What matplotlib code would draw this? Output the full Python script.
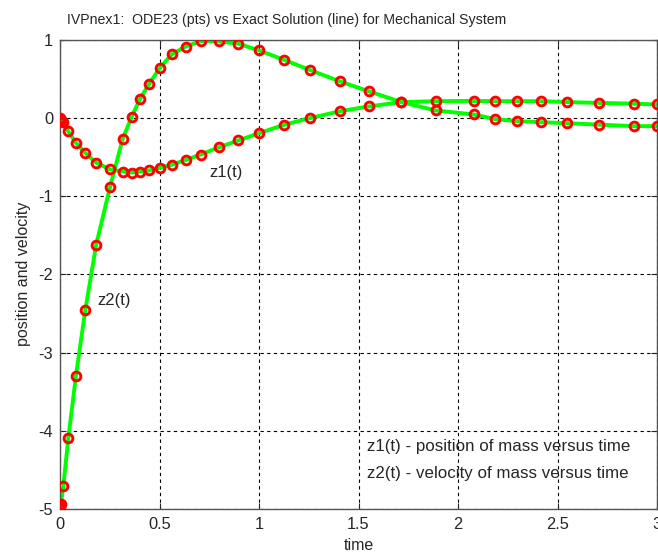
import matplotlib
matplotlib.use("Agg")
import matplotlib.pyplot as plt

plt.rcParams['font.family'] = ['Liberation Sans', 'DejaVu Sans']

t = [0.0, 0.002, 0.005, 0.017, 0.042, 0.080, 0.127, 0.182, 0.252, 0.315, 0.360,
     0.402, 0.447, 0.500, 0.561, 0.631, 0.707, 0.797, 0.896, 1.001, 1.126, 1.256,
     1.407, 1.554, 1.716, 1.889, 2.078, 2.188, 2.296, 2.415, 2.549, 2.709, 2.883, 3.0]
z1 = [0.0, -0.010, -0.025, -0.056, -0.175, -0.320, -0.450, -0.575, -0.660, -0.687, -0.700,
      -0.687, -0.674, -0.640, -0.600, -0.540, -0.470, -0.380, -0.290, -0.197, -0.090, -0.005,
      0.084, 0.145, 0.200, 0.212, 0.215, 0.212, 0.212, 0.212, 0.200, 0.190, 0.180, 0.170]
z2 = [-5.0, -4.96, -4.93, -4.70, -4.09, -3.30, -2.46, -1.62, -0.88, -0.27, 0.01,
      0.24, 0.43, 0.63, 0.81, 0.91, 0.98, 0.976, 0.946, 0.86, 0.74, 0.61,
      0.464, 0.336, 0.200, 0.093, 0.042, -0.018, -0.043, -0.056, -0.070, -0.088, -0.107, -0.107]

xticks = [0, 0.5, 1, 1.5, 2, 2.5, 3]
xticklabels = ['0', '0.5', '1', '1.5', '2', '2.5', '3']
yticks = [-5, -4, -3, -2, -1, 0, 1]
yticklabels = ['-5', '-4', '-3', '-2', '-1', '0', '1']

txt = '#262626'
fig = plt.figure(figsize=(6.58, 5.56), dpi=100)
ax = fig.add_axes([60/658, 47/556, 597/658, 469.5/556])

for z in (z1, z2):
    ax.plot(t, z, color='#00ff00', linewidth=2.8, zorder=2)
    ax.plot(t, z, linestyle='none', marker='o', markersize=6.3, markeredgewidth=2.1,
            markeredgecolor='#ff0000', markerfacecolor='none', zorder=3)

ax.set_xlim(0, 3)
ax.set_ylim(-5, 1)
ax.set_xticks(xticks)
ax.set_xticklabels(xticklabels)
ax.set_yticks(yticks)
ax.set_yticklabels(yticklabels)
ax.grid(True, color='black', linestyle=(0, (3, 3)), linewidth=0.8)
ax.set_axisbelow(True)
ax.tick_params(direction='in', length=4, top=True, right=True, labelsize=11.8,
               colors=txt)
ax.tick_params(axis='x', pad=6)
ax.tick_params(axis='y', pad=5)
for s in ax.spines.values():
    s.set_color('#555555')
    s.set_linewidth(1.0)

fig.text(67/658, 1 - 20/556, 'IVPnex1:  ODE23 (pts) vs Exact Solution (line) for Mechanical System',
         fontsize=10.2, color=txt, ha='left', va='center')
ax.set_xlabel('time', fontsize=11.5, color=txt, labelpad=4)
ax.set_ylabel('position and velocity', fontsize=11.5, color=txt, labelpad=5)

ax.text(0.75, -0.70, 'z1(t)', fontsize=12, color=txt, va='center', ha='left')
ax.text(0.186, -2.34, 'z2(t)', fontsize=12, color=txt, va='center', ha='left')
ax.text(1.543, -4.20, 'z1(t) - position of mass versus time', fontsize=12.2,
        color=txt, va='center', ha='left')
ax.text(1.543, -4.54, 'z2(t) - velocity of mass versus time', fontsize=12.2,
        color=txt, va='center', ha='left')

fig.savefig('out.png', dpi=100)
